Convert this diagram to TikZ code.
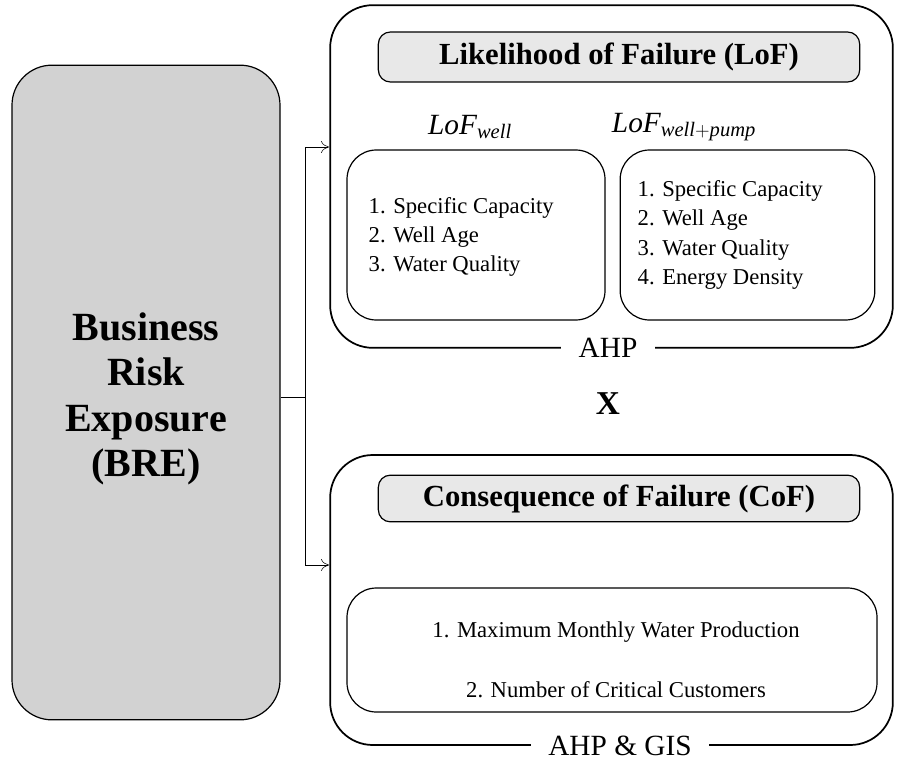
\documentclass[tikz,border=0pt]{standalone}
\usepackage{fontspec}
\setmainfont{Liberation Serif}
\usepackage{tikz}
\usetikzlibrary{arrows.meta}

\begin{document}
\begin{tikzpicture}[x=0.75pt,y=-0.75pt,
        >={To[length=6pt,width=9pt]},
        bre/.style={draw, rounded corners=30pt, fill=gray!35,
                        line width=0.9pt, align=center, inner sep=0pt,
                        minimum width=201pt, minimum height=491pt},
        outer/.style={draw, rounded corners=32pt, line width=1.3pt,
                        inner sep=0pt, minimum width=422pt},
        ttl/.style={draw, rounded corners=9pt, fill=gray!18,
                        line width=0.9pt, inner sep=0pt,
                        minimum width=361pt,
                        font=\fontsize{23}{26}\selectfont\bfseries},
        inner/.style={draw, rounded corners=22pt, line width=0.9pt,
                        inner sep=0pt},
        item/.style={font=\fontsize{17}{22}\selectfont},
        lbl/.style={fill=white, inner xsep=13pt, inner ysep=3pt,
                        font=\fontsize{22}{24}\selectfont}]
            \useasboundingbox (0,0) rectangle (898,763);
            \node[bre] (bre) at (146,392.5) {};
            \node[font=\fontsize{30}{34}\selectfont\bfseries, align=center] (bretxt) at (146,399)
                {Business\\Risk\\Exposure\\(BRE)};

            \node[outer, minimum height=257pt] (lof) at (611.5,176.5) {};
            \node[ttl, minimum height=37.5pt] (loft) at (619,57)
                {Likelihood of Failure (LoF)};
            \node[font=\fontsize{22}{24}\selectfont] (lw) at (470,127)
                {$\mathit{LoF}_{\mathit{well}}$};
            \node[font=\fontsize{22}{24}\selectfont] (lwp) at (684,127)
                {$\mathit{LoF}_{\mathit{well+pump}}$};
            \node[inner, minimum width=193.5pt, minimum height=127.5pt] (wbox) at (476,235) {};
            \node[inner, minimum width=191pt, minimum height=127.5pt] (pbox) at (747.5,235) {};
            \node[item, anchor=west, align=left] (witems) at (364,237)
                {1. Specific Capacity\\2. Well Age\\3. Water Quality};
            \node[item, anchor=west, align=left] (pitems) at (633,235)
                {1. Specific Capacity\\2. Well Age\\3. Water Quality\\4. Energy Density};
            \node[lbl] (ahp) at (608,348) {AHP};

            \node[font=\fontsize{25}{28}\selectfont\bfseries] (times) at (608,404) {X};

            \node[outer, minimum height=217.5pt] (cof) at (611.5,600) {};
            \node[ttl, minimum height=35pt] (coft) at (619,498.5)
                {Consequence of Failure (CoF)};
            \node[inner, minimum width=397.5pt, minimum height=93pt] (cbox) at (612,650) {};
            \node[item] (c1) at (616,632) {1. Maximum Monthly Water Production};
            \node[item] (c2) at (616,690) {2. Number of Critical Customers};
            \node[lbl] (gis) at (620,746) {AHP \& GIS};

            % split from BRE to both parts
            \coordinate (split) at (305,397);
            \coordinate (tolof) at (329,147);
            \coordinate (tocof) at (329,565);
            \draw[thin] (bre.east |- split) -- (split);
            \draw[thin,->] (split) |- (tolof);
            \draw[thin,->] (split) |- (tocof);
        \end{tikzpicture}
\end{document}
